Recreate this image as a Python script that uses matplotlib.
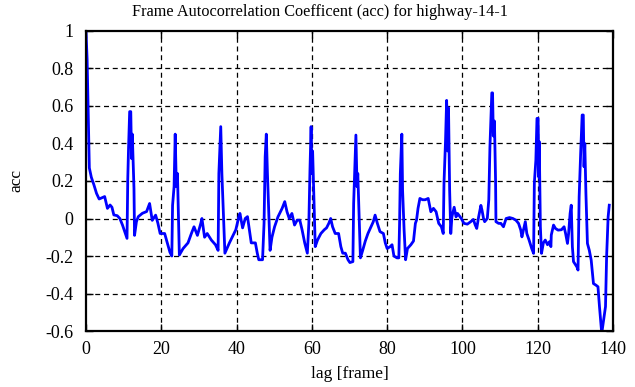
import numpy as np
import matplotlib
matplotlib.use("Agg")
import matplotlib.pyplot as plt

# lag / acc values
lag = [0.0, 0.3, 0.5, 0.7, 0.89, 1.42, 2.1, 2.8, 3.5, 4.96, 5.7, 6.4, 6.9, 7.4, 8.3,
       9.0, 9.7, 10.3, 10.9, 11.1, 11.3, 11.6, 11.9, 12.1, 12.3, 12.75, 12.9, 13.4,
       13.9, 15.0, 16.1, 16.9, 17.6, 18.5, 19.1, 19.7,
       20.9, 21.6, 22.3, 22.8, 23.0, 23.4, 23.7, 24.0, 24.3, 24.6, 24.8, 25.8, 27.1,
       28.0, 28.7, 29.6, 30.5, 30.8, 31.5, 32.2, 33.3, 34.4, 35.1, 35.3, 35.8, 36.1,
       36.9, 38.1,
       39.8, 40.6, 40.9, 41.6, 42.3, 42.9, 43.4, 43.9, 45.0, 45.5, 45.9, 46.9, 47.3,
       47.6, 47.9, 48.2, 48.5, 48.9, 49.4, 50.1, 51.0, 52.1, 52.8, 53.4, 54.0, 54.7,
       55.4, 56.1, 56.8, 57.4, 58.1, 58.8, 59.2, 59.5, 59.8,
       60.0, 60.2, 60.6, 60.9, 61.5, 62.4, 63.3, 63.9, 64.5, 65.0, 65.5, 66.2, 67.1,
       67.7, 68.2, 68.9, 69.6, 70.1, 70.9, 71.1, 71.5, 71.7, 72.0, 72.2, 72.6, 72.9,
       73.5, 74.2, 74.9, 75.7, 76.3, 76.8, 77.4, 78.1, 79.0, 79.5,
       80.0, 80.8, 81.3, 81.8, 82.6, 83.1, 83.3, 83.5, 83.9, 84.1, 84.5, 84.9, 85.4,
       86.3, 87.0, 87.5, 87.8, 88.2, 88.7, 89.4, 90.1, 90.9, 91.6, 92.3, 93.0, 93.7,
       94.4, 94.9, 95.1, 95.5, 95.8, 96.1, 96.3, 96.6, 96.9, 97.2, 97.8, 98.3, 98.7,
       99.7, 100.4, 101.3, 102.2, 102.9, 103.4, 103.8, 104.3, 104.9, 105.2, 105.6,
       105.9, 106.6, 107.0, 107.3, 107.8, 108.0, 108.2, 108.5, 108.8, 108.9, 109.6,
       110.2, 110.9, 111.6, 112.5, 113.4, 114.2, 114.9, 115.5, 115.8, 116.4, 116.7,
       117.1,
       117.7, 118.4, 118.9, 119.1, 119.5, 119.8, 120.1, 120.3, 120.4, 120.7, 121.0,
       121.5, 122.0, 122.6, 123.1, 123.5, 123.6, 124.2, 124.7, 125.4, 126.3, 127.0,
       127.4, 127.9, 128.2, 128.6, 128.9, 129.2, 129.5, 130.4, 130.7, 131.0, 131.4,
       131.8, 132.1, 132.3, 132.5, 132.8, 133.2, 133.7, 134.2, 134.8, 135.5, 136.0,
       136.4, 136.7, 137.0, 137.5, 138.0, 138.3, 138.7, 139.0]
acc = [1.0, 0.85, 0.65, 0.45, 0.27, 0.22, 0.18, 0.134, 0.104, 0.117, 0.054, 0.072, 0.06, 0.019, 0.015,
       0.0, -0.035, -0.07, -0.106, 0.21, 0.37, 0.57, 0.57, 0.32, 0.45, 0.16, -0.09, -0.017,
       0.01, 0.028, 0.037, 0.08, -0.01, 0.018, -0.025, -0.08,
       -0.08, -0.13, -0.18, -0.2, 0.07, 0.17, 0.45, 0.17, 0.24, -0.01, -0.195, -0.16, -0.13,
       -0.08, -0.044, -0.09, -0.026, 0.0, -0.1, -0.08, -0.115, -0.14, -0.17, 0.24, 0.49, 0.24,
       -0.185, -0.13,
       -0.06, 0.009, 0.027, -0.05, 0.0, 0.01, -0.06, -0.13, -0.13, -0.185, -0.22, -0.22, -0.026,
       0.33, 0.45, 0.24, 0.06, -0.17, -0.1, -0.044, 0.009, 0.054, 0.09, 0.036, 0.0, 0.027,
       -0.035, -0.009, -0.009, -0.06, -0.13, -0.185, -0.026, 0.26, 0.49,
       0.24, 0.36, 0.08, -0.15, -0.115, -0.08, -0.06, -0.05, -0.026, 0.0, -0.044, -0.08, -0.08,
       -0.15, -0.185, -0.185, -0.22, -0.235, -0.23, 0.08, 0.33, 0.445, 0.17, 0.24, -0.026, -0.21,
       -0.17, -0.12, -0.08, -0.044, -0.018, 0.018, -0.026, -0.07, -0.08, -0.13,
       -0.16, -0.15, -0.14, -0.2, -0.21, -0.21, -0.026, 0.24, 0.45, 0.15, -0.06, -0.22, -0.16,
       -0.14, -0.12, -0.026, -0.009, 0.054, 0.107, 0.1, 0.1, 0.107, 0.036, 0.054, 0.036, -0.026,
       -0.044, -0.08, 0.19, 0.41, 0.63, 0.36, 0.59, 0.15, -0.08, 0.009, 0.06, 0.009, 0.027,
       0.0, -0.026, -0.03, -0.017, -0.005, -0.035, -0.053, 0.009, 0.07, 0.044, 0.0,
       -0.017, 0.0, 0.1, 0.38, 0.67, 0.67, 0.44, 0.52, 0.2, -0.017, -0.026,
       -0.026, -0.044, 0.0, 0.005, 0.0, -0.009, -0.026, -0.062, -0.098, -0.044, -0.017,
       -0.08,
       -0.115, -0.16, -0.186, 0.19, 0.31, 0.534, 0.534, 0.22, 0.41, -0.044, -0.186,
       -0.13, -0.115, -0.14, -0.124, -0.15, -0.088, -0.035, -0.053, -0.062, -0.06, -0.044,
       -0.08, -0.133, -0.08, 0.027, 0.071, -0.15, -0.23, -0.258, -0.275, 0.116, 0.347,
       0.552, 0.552, 0.276, 0.4, 0.133, -0.133, -0.17, -0.222, -0.347, -0.356, -0.364,
       -0.47, -0.54, -0.613, -0.54, -0.47, -0.2, 0.009, 0.071]

xticks = [0, 20, 40, 60, 80, 100, 120, 140]
yticks = [-0.6, -0.4, -0.2, 0, 0.2, 0.4, 0.6, 0.8, 1]
ytick_labels = ["-0.6", "-0.4", "-0.2", "0", "0.2", "0.4", "0.6", "0.8", "1"]

plt.rcParams['font.family'] = ['Liberation Serif', 'DejaVu Serif']

fig = plt.figure(figsize=(6.35, 3.87), dpi=100)
ax = fig.add_axes([0.1354, 0.1447, 0.83, 0.7752])

ax.plot(lag, acc, color='#0000ff', linewidth=2.0)

ax.set_xlim(0, 140)
ax.set_ylim(-0.6, 1)
ax.set_xticks(xticks)
ax.set_yticks(yticks)
ax.set_yticklabels(ytick_labels)
ax.tick_params(direction='in', top=True, right=True, length=5, width=1,
               labelsize=13)
ax.tick_params(axis='y', pad=9)
ax.tick_params(axis='x', pad=7)

# dashed grid only on interior ticks
for x in xticks[1:-1]:
    ax.axvline(x, color='black', linewidth=0.9, linestyle=(0, (4, 3)), zorder=1)
for y in yticks[1:-1]:
    ax.axhline(y, color='black', linewidth=0.9, linestyle=(0, (4, 3)), zorder=1)

for s in ax.spines.values():
    s.set_linewidth(1.6)

fig.text(0.504, 0.958, "Frame Autocorrelation Coefficent (acc) for highway-14-1",
         fontsize=11.7, ha='center', va='baseline')
ax.set_xlabel("lag [frame]", fontsize=12.5, labelpad=6)
ax.set_ylabel("acc", fontsize=12.5, labelpad=15)

fig.savefig("out.png", dpi=100)
